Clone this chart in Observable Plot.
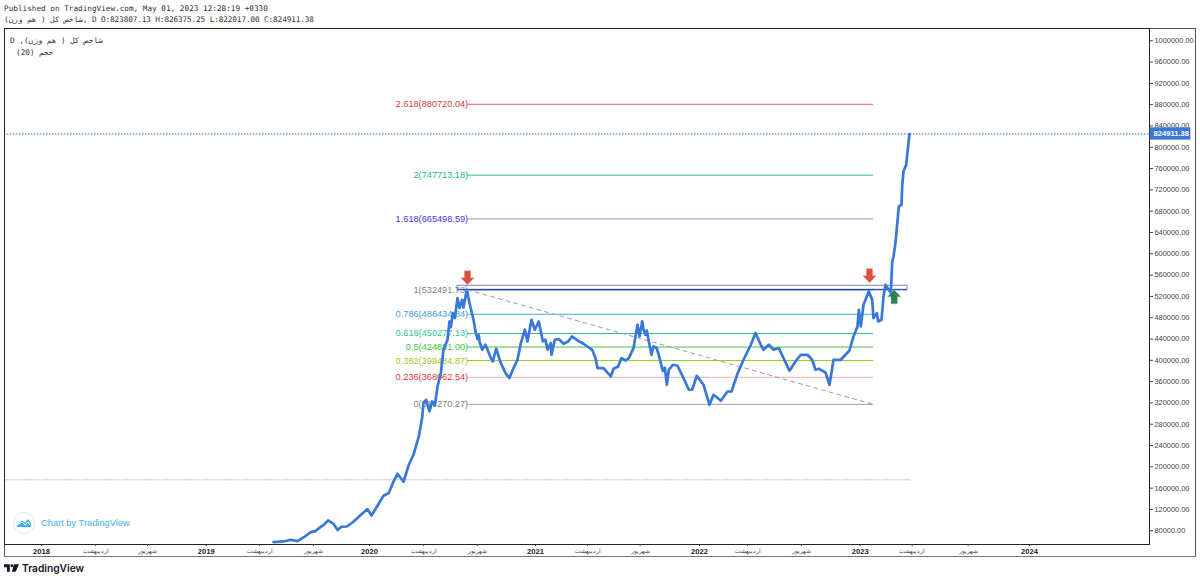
<!DOCTYPE html>
<html><head><meta charset="utf-8">
<script src="https://cdn.jsdelivr.net/npm/d3@7"></script>
<script src="https://cdn.jsdelivr.net/npm/@observablehq/plot@0.6"></script>
<style>
html,body{margin:0;padding:0;background:#fff;width:1200px;height:581px;overflow:hidden}
#hd{position:absolute;left:4px;top:3px;font:7.7px/11px "DejaVu Sans Mono",monospace;color:#333;white-space:pre}
#hd2{letter-spacing:-0.1px}
#leg{position:absolute;left:10px;top:35px;font:7.7px/12px "DejaVu Sans Mono",monospace;color:#333;white-space:pre}
#chart{position:absolute;left:0;top:27px}
#outer{position:absolute;left:4px;top:28px;width:1192px;height:529px;border:1px solid #555;border-bottom-color:#777;box-sizing:border-box}
#badge{position:absolute;left:12.5px;top:512px;width:22px;height:22px;border-radius:50%;border:1px solid #e3e6ea;background:#fff;box-sizing:border-box}
#bt{position:absolute;left:41px;top:517px;font:9.3px/12px "Liberation Sans",sans-serif;color:#3fb0f2}
#logo{position:absolute;left:4px;top:561px;height:14px;display:flex;align-items:center}
#logo span{font:600 10.2px/14px "Inter","Liberation Sans",sans-serif;color:#131722;margin-left:3px}
</style></head><body>
<div id="outer"></div>
<div id="chart"></div>
<div id="hd">Published on TradingView.com, May 01, 2023 12:28:19 +0330
<span id="hd2">شاخص کل ( هم وزن), D O:823807.13 H:826375.25 L:822017.00 C:824911.38</span></div>
<div id="leg"><span dir="rtl" style="unicode-bidi:isolate">شاخص کل ( هم وزن), D</span>
<span dir="rtl" style="unicode-bidi:isolate;padding-left:6px">حجم (20)</span></div>
<div id="badge"><svg width="20" height="20" viewBox="0 0 20 20"><path d="M3 13 L7 8 Q8 7 9 8 L11 10 L13 7 Q14 6 15 7 L17 11 L17 14 L3 14Z" fill="#42b0f0"/><path d="M5 11 L8 9 L11 12 L14 9 L16 12" fill="none" stroke="#fff" stroke-width="1"/></svg></div>
<div id="bt">Chart by TradingView</div>
<div id="logo"><svg width="15" height="8" viewBox="0 0 36 18"><path d="M0 0H14V18H7V7H0Z M24 0H36L28 18H19Z" fill="#131722"/><circle cx="19" cy="3.5" r="3.5" fill="#131722"/></svg><span>TradingView</span></div>
<script>
// trading sessions counted from the first session of 2018; index values in thousands
const sessions=[348,363,374,384,393,404,411,419,423,430,438,444,450,458,468,477,489,495,504,513,521,528,534,543,551,558,566,571,573,577,582,586,590,594,599,603,609,612,614,617,620,624,627,631,633,638,642,648,651,654,656,657,661,666,674,677,682,689,696,702,708,714,719,725,729,735,740,746,752,756,759,764,765,770,776,783,790,796,804,813,826,831,834,843,854,858,865,870,876,881,888,894,897,901,903,906,908,911,915,918,923,929,932,935,938,941,947,954,963,971,976,983,993,1002,1008,1019,1029,1035,1044,1053,1064,1071,1079,1083,1091,1098,1106,1113,1122,1131,1139,1149,1156,1161,1166,1176,1182,1188,1199,1212,1218,1224,1226,1229,1233,1241,1246,1248,1253,1255,1260,1263,1266,1271,1274,1276,1278,1281,1286,1290,1291,1293,1297,1301,1302];
const closes=[58.8,59.9,63.1,60.6,67.4,77.5,79.4,87.5,90.7,99.3,93.1,81.3,87.5,88,96.9,107.6,120.7,108.7,126.9,145.7,150.8,172.5,187,172,203.9,222.7,257,292.1,320.3,325.9,304,322.8,314.7,350.9,376.1,419.8,438.6,473,462,488.7,479.3,516.9,498.1,513.7,498.7,532.5,507.5,476.1,454.2,440,447,435.4,419.8,429.2,404.2,397.9,421.7,394.8,376.1,366.7,385.5,401,432.4,457.4,435.4,476.1,457.4,473,435.4,438.6,419.8,432.4,410.4,438.6,439.9,431.1,435.4,444.8,437.3,431.1,419.8,404.2,385.5,385.5,369.7,384.1,388.5,404.2,399.7,404.2,423,466.8,444.8,473,458,448,456,435.4,410.4,426,423,394.8,380,386,354.1,382.3,391.7,389.8,366.7,344.7,344.7,371,354.1,316.6,335.3,324.1,341.5,341.5,374.8,401,429.2,451.2,429.2,419.8,429.2,419.8,423,404.2,380.4,397.9,410.4,410.4,401,382.3,384.1,377.2,354.1,401,401,418.5,444.8,463.6,494.9,463.6,504.3,529.3,513.7,479.3,488.7,473,476.1,519.3,541.9,532.5,526.3,583.2,595,620.7,688.9,692.1,726.4,754.6,767.2,814.1,824.9];
const lastClose=824911.38;

const fibRatios=["2.618","2","1.618","1","0.786","0.618","0.5","0.382","0.236","0"];
const fibValues=[880720.04,747713.18,665498.59,532491.73,486434.84,450277.13,424881.00,399484.87,368062.54,317270.27];
const fibTextColors=["#e0393e","#22c08a","#3b3bdc","#808080","#38a4e0","#2fc69a","#3cc83c","#a0cc20","#e0393e","#808080"];
const fibLineColors=["#e35b5b","#2dbb8b","#8f8fdd","#1f3f9c","#45a5e0","#35b58c","#4cc23c","#8fcc14","#f0b4ba","#a6a6a6"];
const fibStart=639, fibEnd=1248;

const yearTicks=[0,247,492,741,987,1228,1482];
const yearLabels=["2018","2019","2020","2021","2022","2023","2024"];
const monthTicks=[81,159,327,408,573,654,819,898,1059,1140,1306,1390];
const monthLabels=["اردیبهشت","شهریور","اردیبهشت","شهریور","اردیبهشت","شهریور","اردیبهشت","شهریور","اردیبهشت","شهریور","اردیبهشت","شهریور"];
const priceTicks=d3.range(80000,1000001,40000);

const arrowSessions=[639,1242,1279];
const arrowValues=[555000,558800,519300];
const arrowKinds=["down","down","up"];
const volumeMA=175740, volumeEnd=1305;
const boxX=[624,1299], boxY=[532491.73,540000];

const line=sessions.map((s,i)=>({s,v:closes[i]*1000}));
line[line.length-1].v=lastClose;
const fibs=fibRatios.map((r,i)=>({label:`${r}(${fibValues[i].toFixed(2)})`,v:fibValues[i],tc:fibTextColors[i],lc:fibLineColors[i]}));
const arrows=arrowSessions.map((s,i)=>({s,v:arrowValues[i],k:arrowKinds[i]}));
const arrowShape=d=>({draw(c,size){const r=Math.sqrt(size/Math.PI),w=r*0.95,h=r*0.45;
  c.moveTo(d*-h,d*-r);c.lineTo(d*h,d*-r);c.lineTo(d*h,0);c.lineTo(d*w,0);c.lineTo(0,d*r);c.lineTo(d*-w,0);c.lineTo(d*-h,0);c.closePath();}});
const sans="Liberation Sans";
const fmt=d=>d.toFixed(2);
const xLabel=(t,l)=>d=>l[t.indexOf(d)];

const plot=Plot.plot({
  width:1200,height:531,marginLeft:4,marginRight:51,marginTop:1,marginBottom:14,
  style:{background:"transparent",overflow:"visible"},
  x:{domain:[-55.5,1662]},
  y:{domain:[54190,1023010]},
  marks:[
    Plot.ruleY([volumeMA],{x1:-55.5,x2:volumeEnd,stroke:"#c6e2d6",strokeWidth:1}),
    Plot.ruleY([volumeMA],{x1:-55.5,x2:volumeEnd,stroke:"#f2c6c6",strokeWidth:1,strokeDasharray:"6,14"}),
    Plot.text(fibs,{x:fibStart+1,y:"v",text:"label",fill:"tc",textAnchor:"end",fontSize:9.2,fontFamily:sans}),
    Plot.rect([0],{x1:boxX[0],x2:boxX[1],y1:boxY[0],y2:boxY[1],fill:"#ffffff",fillOpacity:0.3,stroke:"#6f86c8",strokeWidth:1}),
    Plot.ruleY(fibs,{x1:fibStart,x2:fibEnd,y:"v",stroke:"lc",strokeWidth:1}),
    Plot.ruleY([boxY[0]],{x1:boxX[0],x2:boxX[1],stroke:"#1f3f9c",strokeWidth:1}),
    Plot.line([[fibStart,fibValues[3]],[fibEnd,fibValues[9]]],{stroke:"#9e9e9e",strokeWidth:1,strokeDasharray:"4,4"}),
    Plot.ruleY([lastClose],{x1:-55.5,x2:1662,stroke:"#1e6fe0",strokeWidth:1,strokeDasharray:"1.5,1.5"}),
    Plot.line(line,{x:"s",y:"v",stroke:"#3a78d8",strokeWidth:2.7,strokeLinejoin:"round",clip:true}),
    Plot.dot(arrows.filter(d=>d.k==="down"),{x:"s",y:"v",r:7,symbol:arrowShape(1),fill:"#d9523f",stroke:"#ea9a8e",strokeWidth:0.5}),
    Plot.dot(arrows.filter(d=>d.k==="up"),{x:"s",y:"v",r:7,symbol:arrowShape(-1),fill:"#2f7d54",stroke:"#8dbb9f",strokeWidth:0.5}),
    Plot.frame({stroke:"#222"}),
    Plot.axisY({anchor:"right",ticks:priceTicks,tickFormat:fmt,tickSize:3,tickPadding:2,fontSize:7.4,fontFamily:sans,color:"#444",label:null}),
    Plot.rect([0],{x1:1663,x2:1724,y1:lastClose-11500,y2:lastClose+11500,fill:"#3a78d8"}),
    Plot.text([lastClose],{x:1668,y:d=>d,text:fmt,textAnchor:"start",fill:"#fff",fontWeight:"bold",fontSize:7.6,fontFamily:sans}),
    Plot.axisX({ticks:yearTicks,tickFormat:xLabel(yearTicks,yearLabels),tickSize:2,tickPadding:2,fontSize:7.6,fontWeight:"bold",fontFamily:sans,color:"#222",label:null}),
    Plot.axisX({ticks:monthTicks,tickFormat:xLabel(monthTicks,monthLabels),tickSize:2,tickPadding:2,fontSize:6.4,fontFamily:sans,color:"#444",label:null})
  ]
});
document.getElementById("chart").append(plot);
</script>
</body></html>
